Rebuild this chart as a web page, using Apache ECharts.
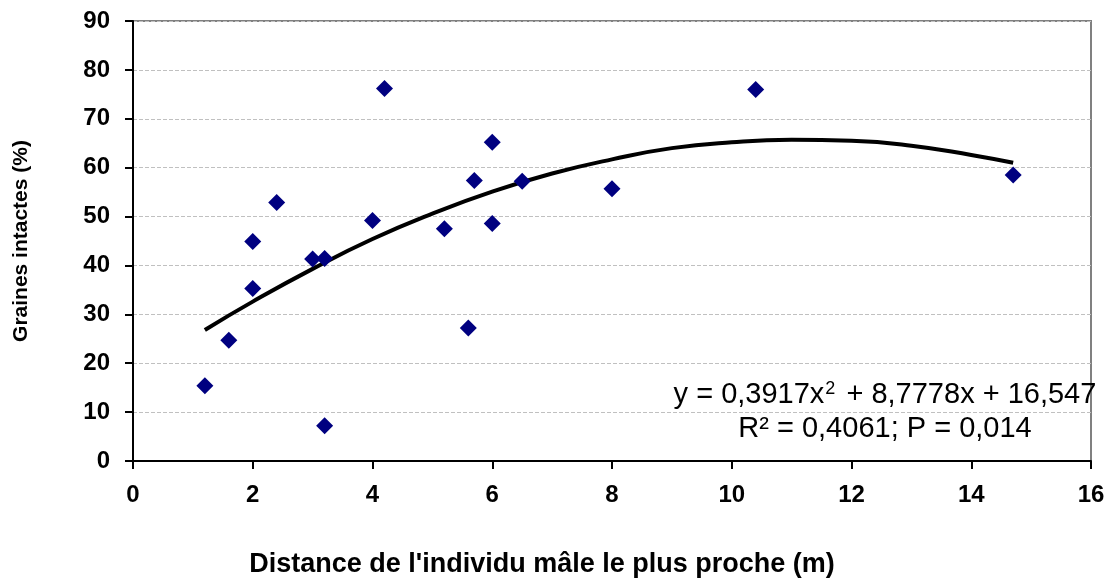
<!DOCTYPE html>
<html lang="fr">
<head>
  <meta charset="UTF-8">
  <title>Graines intactes</title>
  <script src="https://cdn.jsdelivr.net/npm/echarts@6/dist/echarts.min.js"></script>
  <style>
    html, body { margin: 0; padding: 0; background: #fff; }
    #main { width: 1112px; height: 583px; }
  </style>
</head>
<body>
<div id="main"></div>
<script>
  // observations : distance (m) / graines intactes (%)
  var distance = [1.2, 1.6, 2.0, 2.0, 2.4, 3.0, 3.2, 3.2, 4.0, 4.2, 5.2, 5.6, 5.7, 6.0, 6.0, 6.5, 8.0, 10.4, 14.7];
  var graines  = [15.4, 24.7, 44.9, 35.3, 52.9, 41.3, 41.4, 7.2, 49.2, 76.2, 47.5, 27.2, 57.4, 65.2, 48.6, 57.2, 55.7, 76.0, 58.5];

  // courbe de tendance
  var trendX = [1.2, 2, 3, 4, 5, 6, 7, 8, 9, 10, 11, 12, 13, 14, 14.7];
  var trendY = [26.8, 32.6, 39.3, 45.4, 50.6, 55.1, 58.8, 61.7, 64.0, 65.2, 65.7, 65.5, 64.5, 62.6, 61.0];

  var xTicks = [0, 2, 4, 6, 8, 10, 12, 14, 16];
  var yTicks = [0, 10, 20, 30, 40, 50, 60, 70, 80, 90];

  var points = distance.map(function (d, i) { return [d, graines[i]]; });
  var trend = trendX.map(function (x, i) { return [x, trendY[i]]; });

  var font = '"Liberation Sans", Arial, sans-serif';

  var myChart = echarts.init(document.getElementById('main'));
  myChart.setOption({
    backgroundColor: '#ffffff',
    animation: false,
    grid: {
      left: 133, right: 21, top: 21, bottom: 120,
      show: true, borderColor: '#808080', borderWidth: 2
    },
    xAxis: {
      type: 'value',
      min: xTicks[0], max: xTicks[xTicks.length - 1], interval: 2,
      name: "Distance de l'individu mâle le plus proche (m)",
      nameLocation: 'middle',
      nameGap: 90,
      nameTextStyle: { fontFamily: font, fontSize: 27, fontWeight: 'bold', color: '#000', padding: [0, 140, 0, 0] },
      axisLine: { lineStyle: { color: '#000', width: 2 } },
      axisTick: { show: true, length: 8, lineStyle: { color: '#000', width: 2 } },
      axisLabel: { fontFamily: font, fontSize: 24, fontWeight: 'bold', color: '#000', margin: 22 },
      splitLine: { show: false }
    },
    yAxis: {
      type: 'value',
      min: yTicks[0], max: yTicks[yTicks.length - 1], interval: 10,
      name: 'Graines intactes (%)',
      nameLocation: 'middle',
      nameGap: 101,
      nameTextStyle: { fontFamily: font, fontSize: 21, fontWeight: 'bold', color: '#000' },
      axisLine: { show: true, lineStyle: { color: '#000', width: 2 } },
      axisTick: { show: true, length: 8, lineStyle: { color: '#000', width: 2 } },
      axisLabel: { fontFamily: font, fontSize: 24, fontWeight: 'bold', color: '#000', margin: 23 },
      splitLine: { show: true, lineStyle: { color: '#c0c0c0', type: 'dashed', width: 1 } }
    },
    graphic: [
      {
        type: 'text', x: 885, y: 395,
        style: {
          text: '{a|y = 0,3917x}{s|2}{a| + 8,7778x + 16,547}',
          align: 'center', verticalAlign: 'middle',
          rich: {
            a: { fontFamily: font, fontSize: 29, fill: '#000' },
            s: { fontFamily: font, fontSize: 18, fill: '#000', verticalAlign: 'top', padding: [0, 3, 12, 1] }
          }
        }
      },
      {
        type: 'text', x: 885, y: 429,
        style: {
          text: 'R² = 0,4061; P = 0,014',
          align: 'center', verticalAlign: 'middle',
          fontFamily: font, fontSize: 29, fill: '#000'
        }
      }
    ],
    series: [
      {
        type: 'line',
        data: trend,
        smooth: true,
        showSymbol: false,
        lineStyle: { color: '#000', width: 4 },
        z: 2
      },
      {
        type: 'scatter',
        data: points,
        symbol: 'diamond',
        symbolSize: [17, 17],
        itemStyle: { color: '#000080', opacity: 1 },
        z: 3
      }
    ]
  });
</script>
</body>
</html>
